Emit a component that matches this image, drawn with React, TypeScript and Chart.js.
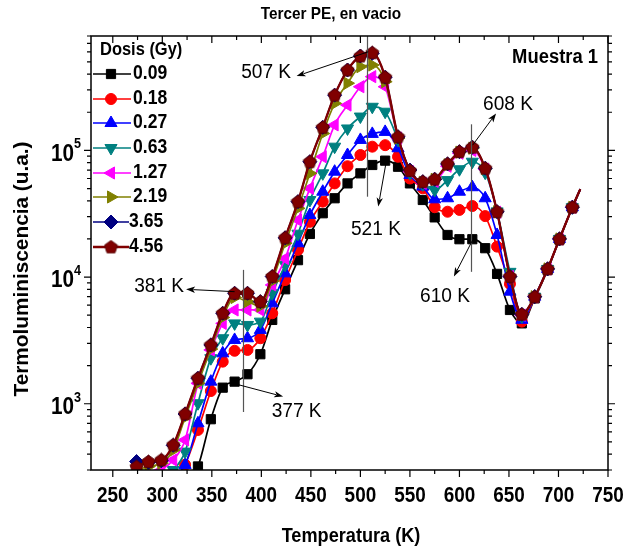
import React, { useEffect, useRef } from 'react';
import { Chart, registerables } from 'chart.js';
import { drawPoint } from 'chart.js/helpers';
Chart.register(...registerables);

// ---------- data ----------
const temps = [274, 286, 299, 311, 323, 336, 349, 361, 373, 386, 399, 411, 424, 437, 449, 462, 474, 487, 500, 512, 525, 538, 550, 563, 575, 588, 600, 613, 626, 638, 651, 663, 676, 689, 701, 714, 722];

const dose009 = [120, 140, 160, 190, 230, 320, 755, 1340, 1495, 1710, 2460, 4590, 8010, 13600, 21900, 31900, 41900, 54900, 65900, 76700, 83000, 74300, 54900, 40600, 29600, 21500, 19900, 19900, 16900, 10600, 5500, 4310, 6800, 11400, 19800, 35300, 49000];
const dose018 = [150, 170, 200, 240, 330, 621, 1260, 2150, 2620, 2660, 3290, 5180, 9480, 16400, 27300, 39400, 54900, 75000, 92000, 107000, 110000, 89100, 60000, 50200, 35600, 32800, 33900, 36400, 30300, 17400, 8830, 4450, 6900, 11500, 19900, 35400, 49200];
const dose027 = [170, 190, 220, 270, 329, 701, 1495, 2500, 3190, 3290, 3830, 6210, 10700, 18500, 30900, 47200, 67900, 92000, 121000, 135000, 140000, 104000, 64000, 51800, 41100, 41900, 47200, 51200, 41900, 21500, 7670, 4600, 7000, 11600, 20000, 35600, 49500];
const dose063 = [200, 230, 260, 300, 419, 1010, 2290, 3290, 4310, 4190, 4450, 7450, 12500, 22000, 40600, 65900, 107000, 149000, 185000, 221000, 202000, 121000, 66000, 54000, 48700, 58300, 71000, 81400, 66700, 33000, 11000, 4900, 7000, 11600, 20000, 35600, 49500];
const dose127 = [230, 260, 300, 360, 518, 1450, 2660, 4310, 5500, 5500, 5500, 8670, 14000, 28200, 50200, 89100, 159000, 228000, 318000, 382000, 318000, 125000, 68000, 55000, 57000, 75000, 95000, 100000, 71000, 32500, 10100, 5000, 7000, 11600, 20000, 35600, 49500];
const dose219 = [300, 320, 340, 430, 780, 1450, 2700, 4800, 6900, 6400, 5900, 9300, 18500, 34900, 65900, 136000, 235000, 339000, 458000, 472000, 349000, 125000, 70000, 56000, 59000, 77000, 97000, 104000, 72000, 32800, 10100, 5050, 7000, 11600, 20000, 35600, 49500];
const dose365 = [350, 345, 355, 470, 830, 1590, 2910, 5180, 7450, 7450, 6400, 10100, 20400, 39400, 81400, 152000, 273000, 431000, 556000, 584000, 378000, 128000, 70000, 56600, 59200, 78200, 97700, 106000, 72300, 32800, 10100, 5080, 7000, 11600, 20000, 35600, 49500];
const dose456 = [318, 349, 360, 473, 832, 1590, 2910, 5180, 7450, 7450, 6400, 10100, 20400, 39400, 81400, 152000, 273000, 431000, 556000, 590000, 378000, 128000, 69200, 56600, 59200, 78200, 97700, 106000, 72300, 32800, 10100, 5080, 7000, 11600, 20000, 35600, 49500];

const doseLabels = ['0.09', '0.18', '0.27', '0.63', '1.27', '2.19', '3.65', '4.56'];
const seriesValues = [dose009, dose018, dose027, dose063, dose127, dose219, dose365, dose456];

const xTickValues = [250, 300, 350, 400, 450, 500, 550, 600, 650, 700, 750];
const yTickExponents = [3, 4, 5];

// vertical marker lines: temperature, lower value, upper value
const lineTemps = [381, 507, 612];
const lineLows = [861, 43100, 11000];
const lineHighs = [11400, 800000, 160700];

// arrows: from (T, value) to (T, value), label at (T, value)
const arrowLabels = ['381 K', '377 K', '507 K', '521 K', '608 K', '610 K'];
const arrowFromT = [373, 371.5, 508, 525.8, 613.3, 613.3];
const arrowFromV = [7670, 1450, 601000, 79100, 110000, 19600];
const arrowToT = [324, 422, 435.6, 518, 637, 594.4];
const arrowToV = [8010, 1140, 386000, 36000, 196000, 10100];
const labelT = [322, 435.6, 430, 515.7, 649, 585.4];
const labelV = [8360, 867, 413000, 23600, 228000, 6970];
const labelAlign = ['right', 'center', 'right', 'center', 'center', 'center'];

// ---------- styles ----------
const COLORS = ['#000000', '#FF0000', '#0000FF', '#008080', '#FF00FF', '#808000', '#000080', '#800000'];
const STYLES = ['rect', 'circle', 'triangle', 'triangle', 'triangle', 'triangle', 'rectRot', 'pentagon'];
const ROTS = [0, 0, 0, 180, -90, 90, 0, 0];
const RADII = [6.5, 5.5, 7, 7, 7, 7, 7, 7];
const FONT = '"Liberation Sans", Arial, sans-serif';

function makePentagon(color: string): HTMLCanvasElement {
  const c = document.createElement('canvas');
  c.width = 15; c.height = 15;
  const g = c.getContext('2d')!;
  g.beginPath();
  for (let k = 0; k < 5; k++) {
    const a = -Math.PI / 2 + (k * 2 * Math.PI) / 5;
    const px = 7.5 + 6.8 * Math.cos(a);
    const py = 7.8 + 6.8 * Math.sin(a);
    if (k === 0) g.moveTo(px, py); else g.lineTo(px, py);
  }
  g.closePath();
  g.fillStyle = color;
  g.fill();
  g.strokeStyle = '#5a0000';
  g.lineWidth = 1;
  g.stroke();
  return c;
}

function txt(ctx: CanvasRenderingContext2D, s: string, x: number, y: number, font: string, align: CanvasTextAlign, sx: number) {
  ctx.save();
  ctx.font = font;
  ctx.translate(x, y);
  ctx.scale(sx, 1);
  ctx.textAlign = align;
  ctx.textBaseline = 'middle';
  ctx.fillStyle = '#000';
  ctx.fillText(s, 0, 0);
  ctx.restore();
}

function arrow(ctx: CanvasRenderingContext2D, x1: number, y1: number, x2: number, y2: number) {
  const a = Math.atan2(y2 - y1, x2 - x1);
  const L = 9, W = 3.2;
  ctx.save();
  ctx.strokeStyle = '#000';
  ctx.fillStyle = '#000';
  ctx.lineWidth = 1;
  ctx.beginPath();
  ctx.moveTo(x1, y1);
  ctx.lineTo(x2 - Math.cos(a) * L * 0.8, y2 - Math.sin(a) * L * 0.8);
  ctx.stroke();
  ctx.beginPath();
  ctx.moveTo(x2, y2);
  ctx.lineTo(x2 - Math.cos(a) * L - Math.sin(a) * W, y2 - Math.sin(a) * L + Math.cos(a) * W);
  ctx.lineTo(x2 - Math.cos(a) * L * 0.75, y2 - Math.sin(a) * L * 0.75);
  ctx.lineTo(x2 - Math.cos(a) * L + Math.sin(a) * W, y2 - Math.sin(a) * L - Math.cos(a) * W);
  ctx.closePath();
  ctx.fill();
  ctx.restore();
}

export default function App() {
  const ref = useRef<HTMLCanvasElement>(null);

  useEffect(() => {
    if (!ref.current) return;
    const pent = makePentagon(COLORS[7]);
    const styleFor = (i: number): any => (STYLES[i] === 'pentagon' ? pent : STYLES[i]);

    const datasets = seriesValues.map((vals, i) => ({
      label: doseLabels[i],
      data: temps.map((t, j) => ({ x: t, y: vals[j] })),
      borderColor: COLORS[i],
      backgroundColor: COLORS[i],
      pointBackgroundColor: COLORS[i],
      pointBorderColor: COLORS[i],
      pointBorderWidth: 1,
      borderWidth: i === 7 ? 2.3 : 1.7,
      pointStyle: styleFor(i),
      pointRotation: ROTS[i],
      pointRadius: (c: any) => (c.dataIndex === temps.length - 1 ? 0 : RADII[i]),
      cubicInterpolationMode: 'monotone' as const,
      order: 7 - i,
    }));

    const deco = {
      id: 'deco',
      beforeDraw(chart: any) {
        const c = chart.ctx;
        c.save();
        c.fillStyle = '#fff';
        c.fillRect(0, 0, chart.width, chart.height);
        c.restore();
      },
      afterDraw(chart: any) {
        const ctx: CanvasRenderingContext2D = chart.ctx;
        const { left, right, top, bottom } = chart.chartArea;
        const xs = chart.scales.x;
        const ys = chart.scales.y;

        // vertical marker lines
        ctx.save();
        ctx.strokeStyle = '#555';
        ctx.lineWidth = 1.2;
        lineTemps.forEach((t, i) => {
          const px = Math.round(xs.getPixelForValue(t)) + 0.5;
          ctx.beginPath();
          ctx.moveTo(px, Math.max(top, ys.getPixelForValue(lineHighs[i])));
          ctx.lineTo(px, ys.getPixelForValue(lineLows[i]));
          ctx.stroke();
        });
        ctx.restore();

        // arrows + labels
        arrowLabels.forEach((lab, i) => {
          arrow(ctx,
            xs.getPixelForValue(arrowFromT[i]), ys.getPixelForValue(arrowFromV[i]),
            xs.getPixelForValue(arrowToT[i]), ys.getPixelForValue(arrowToV[i]));
          txt(ctx, lab, xs.getPixelForValue(labelT[i]), ys.getPixelForValue(labelV[i]),
            `19.5px ${FONT}`, labelAlign[i] as CanvasTextAlign, 0.98);
        });

        // frame
        ctx.save();
        ctx.strokeStyle = '#000';
        ctx.lineWidth = 1.5;
        ctx.strokeRect(left, top, right - left, bottom - top);

        // x ticks
        ctx.lineWidth = 1.2;
        for (let t = 250; t <= 750; t += 25) {
          const px = xs.getPixelForValue(t);
          const major = t % 50 === 0;
          const len = major ? 7 : 4;
          ctx.beginPath();
          ctx.moveTo(px, bottom);
          ctx.lineTo(px, bottom + len);
          ctx.moveTo(px, top);
          ctx.lineTo(px, top + len);
          ctx.stroke();
        }
        // y ticks
        for (let e = 2; e <= 5; e++) {
          for (let m = 1; m <= 9; m++) {
            const v = m * Math.pow(10, e);
            if (v < ys.min || v > ys.max) continue;
            const py = ys.getPixelForValue(v);
            const len = m === 1 ? 7 : 4;
            ctx.beginPath();
            ctx.moveTo(left, py);
            ctx.lineTo(left - len, py);
            ctx.moveTo(right, py);
            ctx.lineTo(right + len, py);
            ctx.stroke();
          }
        }
        ctx.restore();

        // x tick labels
        xTickValues.forEach((t) => {
          txt(ctx, String(t), xs.getPixelForValue(t), bottom + 26, `bold 21.5px ${FONT}`, 'center', 0.88);
        });
        // y tick labels (10^n)
        yTickExponents.forEach((e) => {
          const py = ys.getPixelForValue(Math.pow(10, e));
          const sx = 0.9;
          ctx.save();
          ctx.font = `bold 14px ${FONT}`;
          const wSup = ctx.measureText(String(e)).width * sx;
          ctx.font = `bold 23px ${FONT}`;
          const w10 = ctx.measureText('10').width * sx;
          ctx.restore();
          const xr = left - 10;
          txt(ctx, '10', xr - wSup - w10, py + 4, `bold 23px ${FONT}`, 'left', sx);
          txt(ctx, String(e), xr - wSup, py - 6, `bold 14px ${FONT}`, 'left', sx);
        });

        // titles
        txt(ctx, 'Tercer PE, en vacio', 331, 14, `bold 16.5px ${FONT}`, 'center', 0.93);
        txt(ctx, 'Temperatura (K)', 351, 537, `bold 19.5px ${FONT}`, 'center', 0.93);
        ctx.save();
        ctx.translate(22, 269);
        ctx.rotate(-Math.PI / 2);
        txt(ctx, 'Termoluminiscencia (u.a.)', 0, 0, `bold 21px ${FONT}`, 'center', 0.99);
        ctx.restore();
        txt(ctx, 'Muestra 1', 598, 57, `bold 20px ${FONT}`, 'right', 0.92);

        // legend
        txt(ctx, 'Dosis (Gy)', 100, 50, `bold 18.3px ${FONT}`, 'left', 0.9);
        const legendY = [74, 99, 123, 148, 173, 197, 222, 247];
        doseLabels.forEach((lab, i) => {
          const y = legendY[i];
          const x2 = i >= 6 ? 129 : 131;
          ctx.save();
          ctx.strokeStyle = COLORS[i];
          ctx.lineWidth = i === 7 ? 2.3 : 1.7;
          ctx.beginPath();
          ctx.moveTo(93, y);
          ctx.lineTo(x2, y);
          ctx.stroke();
          ctx.fillStyle = COLORS[i];
          ctx.strokeStyle = COLORS[i];
          ctx.lineWidth = 1;
          drawPoint(ctx, { pointStyle: styleFor(i), rotation: ROTS[i], radius: RADII[i], borderWidth: 1 } as any, 111, y);
          ctx.restore();
          txt(ctx, lab, i >= 6 ? 129 : 133, y, `bold 19.5px ${FONT}`, 'left', 0.9);
        });
      },
    };

    const chart = new Chart(ref.current, {
      type: 'line',
      data: { datasets },
      options: {
        animation: false,
        responsive: false,
        devicePixelRatio: 1,
        layout: { padding: { left: 91, right: 20, top: 36, bottom: 81 } },
        plugins: { legend: { display: false }, tooltip: { enabled: false }, title: { display: false } },
        scales: {
          x: { type: 'linear', min: 228, max: 750, display: false },
          y: { type: 'logarithmic', min: 300, max: 800000, display: false },
        },
      },
      plugins: [deco],
    } as any);
    return () => chart.destroy();
  }, []);

  return (
    <div style={{ position: 'fixed', left: 0, top: 0, width: 628, height: 551, background: '#fff' }}>
      <canvas ref={ref} width={628} height={551} style={{ width: 628, height: 551 }} />
    </div>
  );
}
